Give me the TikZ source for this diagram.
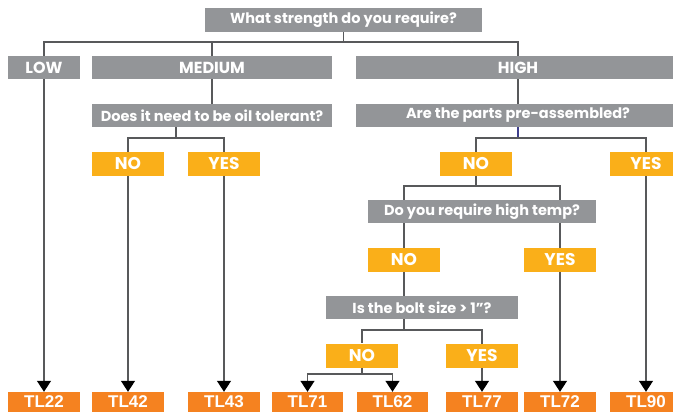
\documentclass[tikz,border=0pt]{standalone}
\usepackage{fontspec}
\setmainfont{Poppins}
\newfontfamily\tlfont{Liberation Sans}
\usepackage{tikz}
\usetikzlibrary{arrows.meta,backgrounds}
\definecolor{boxgray}{HTML}{939598}
\definecolor{ansyellow}{HTML}{FAAF19}
\definecolor{tlorange}{HTML}{F58220}
\definecolor{linegray}{HTML}{58595B}

\begin{document}
\begin{tikzpicture}[x=1pt,y=-1pt,
        every node/.style={inner sep=0pt,text=white},
        qbox/.style={fill=boxgray,minimum height=23.5pt,font=\bfseries\fontsize{14.5}{16}\selectfont},
        ans/.style={fill=ansyellow,minimum width=72pt,minimum height=24pt,font=\bfseries\fontsize{17}{19}\selectfont},
        prod/.style={fill=tlorange,minimum width=72pt,minimum height=20pt,font=\tlfont\bfseries\fontsize{17}{19}\selectfont},
        link/.style={draw=linegray,line width=1.3pt},
        tip/.style={link,-{Triangle[width=14pt,length=11pt,color=black]}}]
        \useasboundingbox (0,0) rectangle (673,412);
        \clip (0,0) rectangle (673,412);
        \node [qbox,minimum width=277pt] (q1) at (343.5,20) {What strength do you require?};
        \node [qbox,minimum width=72pt,font=\bfseries\fontsize{16}{18}\selectfont] (low) at (44,67.5) {LOW};
        \node [qbox,minimum width=240pt,font=\bfseries\fontsize{16}{18}\selectfont] (medium) at (212,67.5) {MEDIUM};
        \node [qbox,minimum width=324pt,font=\bfseries\fontsize{16}{18}\selectfont] (high) at (518,67.5) {HIGH};
        \node [qbox,minimum width=240pt] (q2) at (212,115.5) {Does it need to be oil tolerant?};
        \node [qbox,minimum width=324pt] (q3) at (518,115.5) {Are the parts pre-assembled?};
        \node [ans] (no1) at (128,164) {NO};
        \node [ans] (yes1) at (224,164) {YES};
        \node [ans] (no2) at (476,164) {NO};
        \node [ans] (yes2) at (646,164) {YES};
        \node [qbox,minimum width=228pt] (q4) at (482,211.5) {Do you require high temp?};
        \node [ans] (no3) at (404,260) {NO};
        \node [ans] (yes3) at (560,260) {YES};
        \node [qbox,minimum width=192pt] (q5) at (422,307.5) {Is the bolt size > 1\symbol{34}?};
        \node [ans] (no4) at (362,355.5) {NO};
        \node [ans] (yes4) at (482,355.5) {YES};
        \node [prod] (tl22) at (44,402) {TL22};
        \node [prod] (tl42) at (128,402) {TL42};
        \node [prod] (tl43) at (224,402) {TL43};
        \node [prod,minimum width=71pt] (tl71) at (307.5,402) {TL71};
        \node [prod,minimum width=71pt] (tl62) at (392.5,402) {TL62};
        \node [prod] (tl77) at (482,402) {TL77};
        \node [prod] (tl72) at (560,402) {TL72};
        \node [prod] (tl90) at (646,402) {TL90};
        \coordinate (s1) at (343.5,42);
        \coordinate (s2) at (176,138);
        \coordinate (s3) at (518,138);
        \coordinate (s4) at (476,186);
        \coordinate (s5) at (404,330);
        \coordinate (s6) at (362,374);
        \begin{scope}[on background layer]
        \draw [link] (q1.south) -- (s1);
        \draw [tip] (s1) -| (tl22.north);
        \draw [link] (s1) -| (high.north);
        \draw [link] (medium.north |- s1) -- (medium.north);
        \draw [link] (medium.south) -- (q2.north);
        \draw [link] (high.south) -- (q3.north);
        \draw [link] (s2 |- q2.south) -- (s2);
        \draw [tip] (s2) -| (tl42.north);
        \draw [tip] (s2) -| (tl43.north);
        \draw [link,draw=linegray!70!blue] (q3.south) -- (s3);
        \draw [link] (s3) -| (no2.north);
        \draw [tip] (s3) -| (tl90.north);
        \draw [link] (no2.south) -- (s4);
        \draw [link] (s4) -| (no3.north);
        \draw [tip] (s4) -| (tl72.north);
        \draw [link] (no3.south) -- (no3.south |- q5.north);
        \draw [link] (s5 |- q5.south) -- (s5);
        \draw [link] (s5) -| (no4.north);
        \draw [tip] (s5) -| (tl77.north);
        \draw [link] (no4.south) -- (s6);
        \draw [tip] (s6) -| (tl71.north);
        \draw [tip] (s6) -| (tl62.north);
        \end{scope}
\end{tikzpicture}
\end{document}
